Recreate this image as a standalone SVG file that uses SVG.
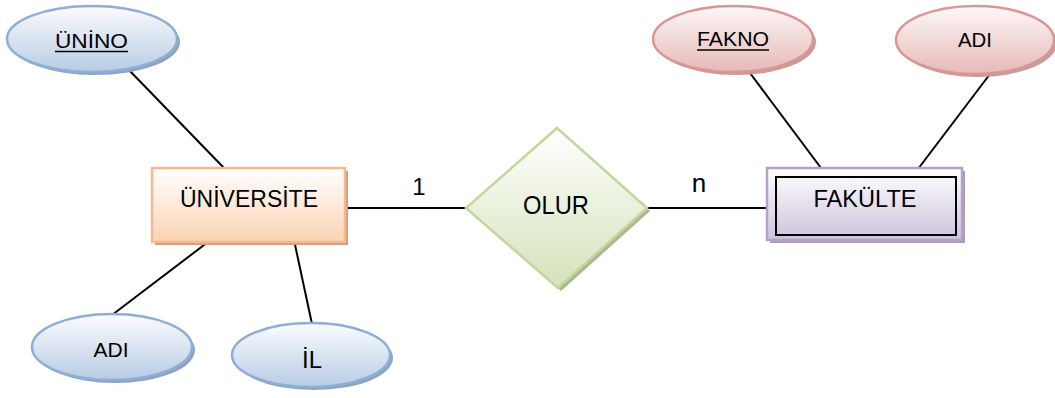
<svg xmlns="http://www.w3.org/2000/svg" width="1055" height="398" viewBox="0 0 1055 398">
<style>
text{font-family:"Liberation Sans",Arial,sans-serif;fill:#000;text-anchor:middle}
.lbl{font-size:24px}
.att{font-size:21px}
.blue{fill:url(#gBlue);stroke:#8EAEDA;stroke-width:2.5}
.pink{fill:url(#gPink);stroke:#D99694;stroke-width:2.5}
.bsh{fill:#8FA3BE}
.psh{fill:#C99A99}
.conn line{stroke:#000;stroke-width:2}
</style>
<defs>
<linearGradient id="gBlue" x1="0" y1="0" x2="0" y2="1"><stop offset="0" stop-color="#FBFCFE"/><stop offset="1" stop-color="#B8CCE4"/></linearGradient>
<linearGradient id="gPink" x1="0" y1="0" x2="0" y2="1"><stop offset="0" stop-color="#FDF8F8"/><stop offset="1" stop-color="#E6B9B8"/></linearGradient>
<linearGradient id="gOrange" x1="0" y1="0" x2="0" y2="1"><stop offset="0" stop-color="#FFFFFF"/><stop offset="1" stop-color="#FBD3B3"/></linearGradient>
<linearGradient id="gGreen" x1="0" y1="0" x2="0" y2="1"><stop offset="0" stop-color="#FFFFFF"/><stop offset="1" stop-color="#D4E2BA"/></linearGradient>
<linearGradient id="gPurple" x1="0" y1="0" x2="0" y2="1"><stop offset="0" stop-color="#FFFFFF"/><stop offset="1" stop-color="#CDC2DC"/></linearGradient>
</defs>
<rect width="1055" height="398" fill="#fff"/>
<g id="connectors" class="conn">
<line x1="128" y1="69" x2="224" y2="168"/>
<line x1="208" y1="242" x2="112" y2="315"/>
<line x1="294" y1="240" x2="312" y2="324"/>
<line x1="345" y1="208" x2="466" y2="208"/>
<line x1="647" y1="208" x2="767" y2="208"/>
<line x1="747" y1="69" x2="821" y2="168"/>
<line x1="990" y1="74" x2="918" y2="169"/>
<text class="lbl" x="419" y="195">1</text>
<text class="lbl" x="699" y="192" style="font-size:26px">n</text>
</g>
<g id="unino">
<ellipse class="bsh" cx="95" cy="42" rx="85" ry="33"/>
<ellipse class="blue" cx="92" cy="39" rx="85" ry="33"/>
<text class="att" x="91.5" y="48" textLength="73" lengthAdjust="spacingAndGlyphs">ÜNİNO</text>
<line x1="55" y1="51.5" x2="128" y2="51.5" stroke="#000" stroke-width="1.5"/>
</g>
<g id="universite">
<rect x="155" y="171" width="193" height="74" fill="#C9A083"/>
<rect x="152" y="168" width="193" height="74" fill="url(#gOrange)" stroke="#F6B98D" stroke-width="2.5"/>
<text class="lbl" x="249" y="207" textLength="138" lengthAdjust="spacingAndGlyphs">ÜNİVERSİTE</text>
</g>
<g id="adi1">
<ellipse class="bsh" cx="115" cy="350" rx="80" ry="33"/>
<ellipse class="blue" cx="112" cy="347" rx="80" ry="33"/>
<text class="att" x="111" y="357" textLength="35" lengthAdjust="spacingAndGlyphs">ADI</text>
</g>
<g id="il">
<ellipse class="bsh" cx="314" cy="358" rx="79" ry="32"/>
<ellipse class="blue" cx="311" cy="355" rx="79" ry="32"/>
<text class="lbl" x="312" y="368">İL</text>
</g>
<g id="olur">
<polygon points="560,131 650,211 561,291 469,211" fill="#A9B98F"/>
<polygon points="557,128 647,208 558,288 466,208" fill="url(#gGreen)" stroke="#C3D69B" stroke-width="2.5"/>
<text class="lbl" x="556" y="214" style="font-size:25px" textLength="66" lengthAdjust="spacingAndGlyphs">OLUR</text>
</g>
<g id="fakulte">
<rect x="770" y="171" width="195" height="72" fill="#A99CB8"/>
<rect x="767" y="168" width="195" height="72" fill="url(#gPurple)" stroke="#B3A2C7" stroke-width="2.5"/>
<rect x="776" y="177" width="180" height="58" fill="none" stroke="#000" stroke-width="2"/>
<text class="lbl" x="865" y="207" textLength="103" lengthAdjust="spacingAndGlyphs">FAKÜLTE</text>
</g>
<g id="fakno">
<ellipse class="psh" cx="736" cy="42" rx="80" ry="33"/>
<ellipse class="pink" cx="733" cy="39" rx="80" ry="33"/>
<text class="att" x="733" y="46" textLength="72" lengthAdjust="spacingAndGlyphs">FAKNO</text>
<line x1="697" y1="50" x2="769" y2="50" stroke="#000" stroke-width="1.5"/>
</g>
<g id="adi2">
<ellipse class="psh" cx="978" cy="43" rx="79" ry="34"/>
<ellipse class="pink" cx="975" cy="40" rx="79" ry="34"/>
<text class="att" x="975" y="47" textLength="34" lengthAdjust="spacingAndGlyphs">ADI</text>
</g>
</svg>
